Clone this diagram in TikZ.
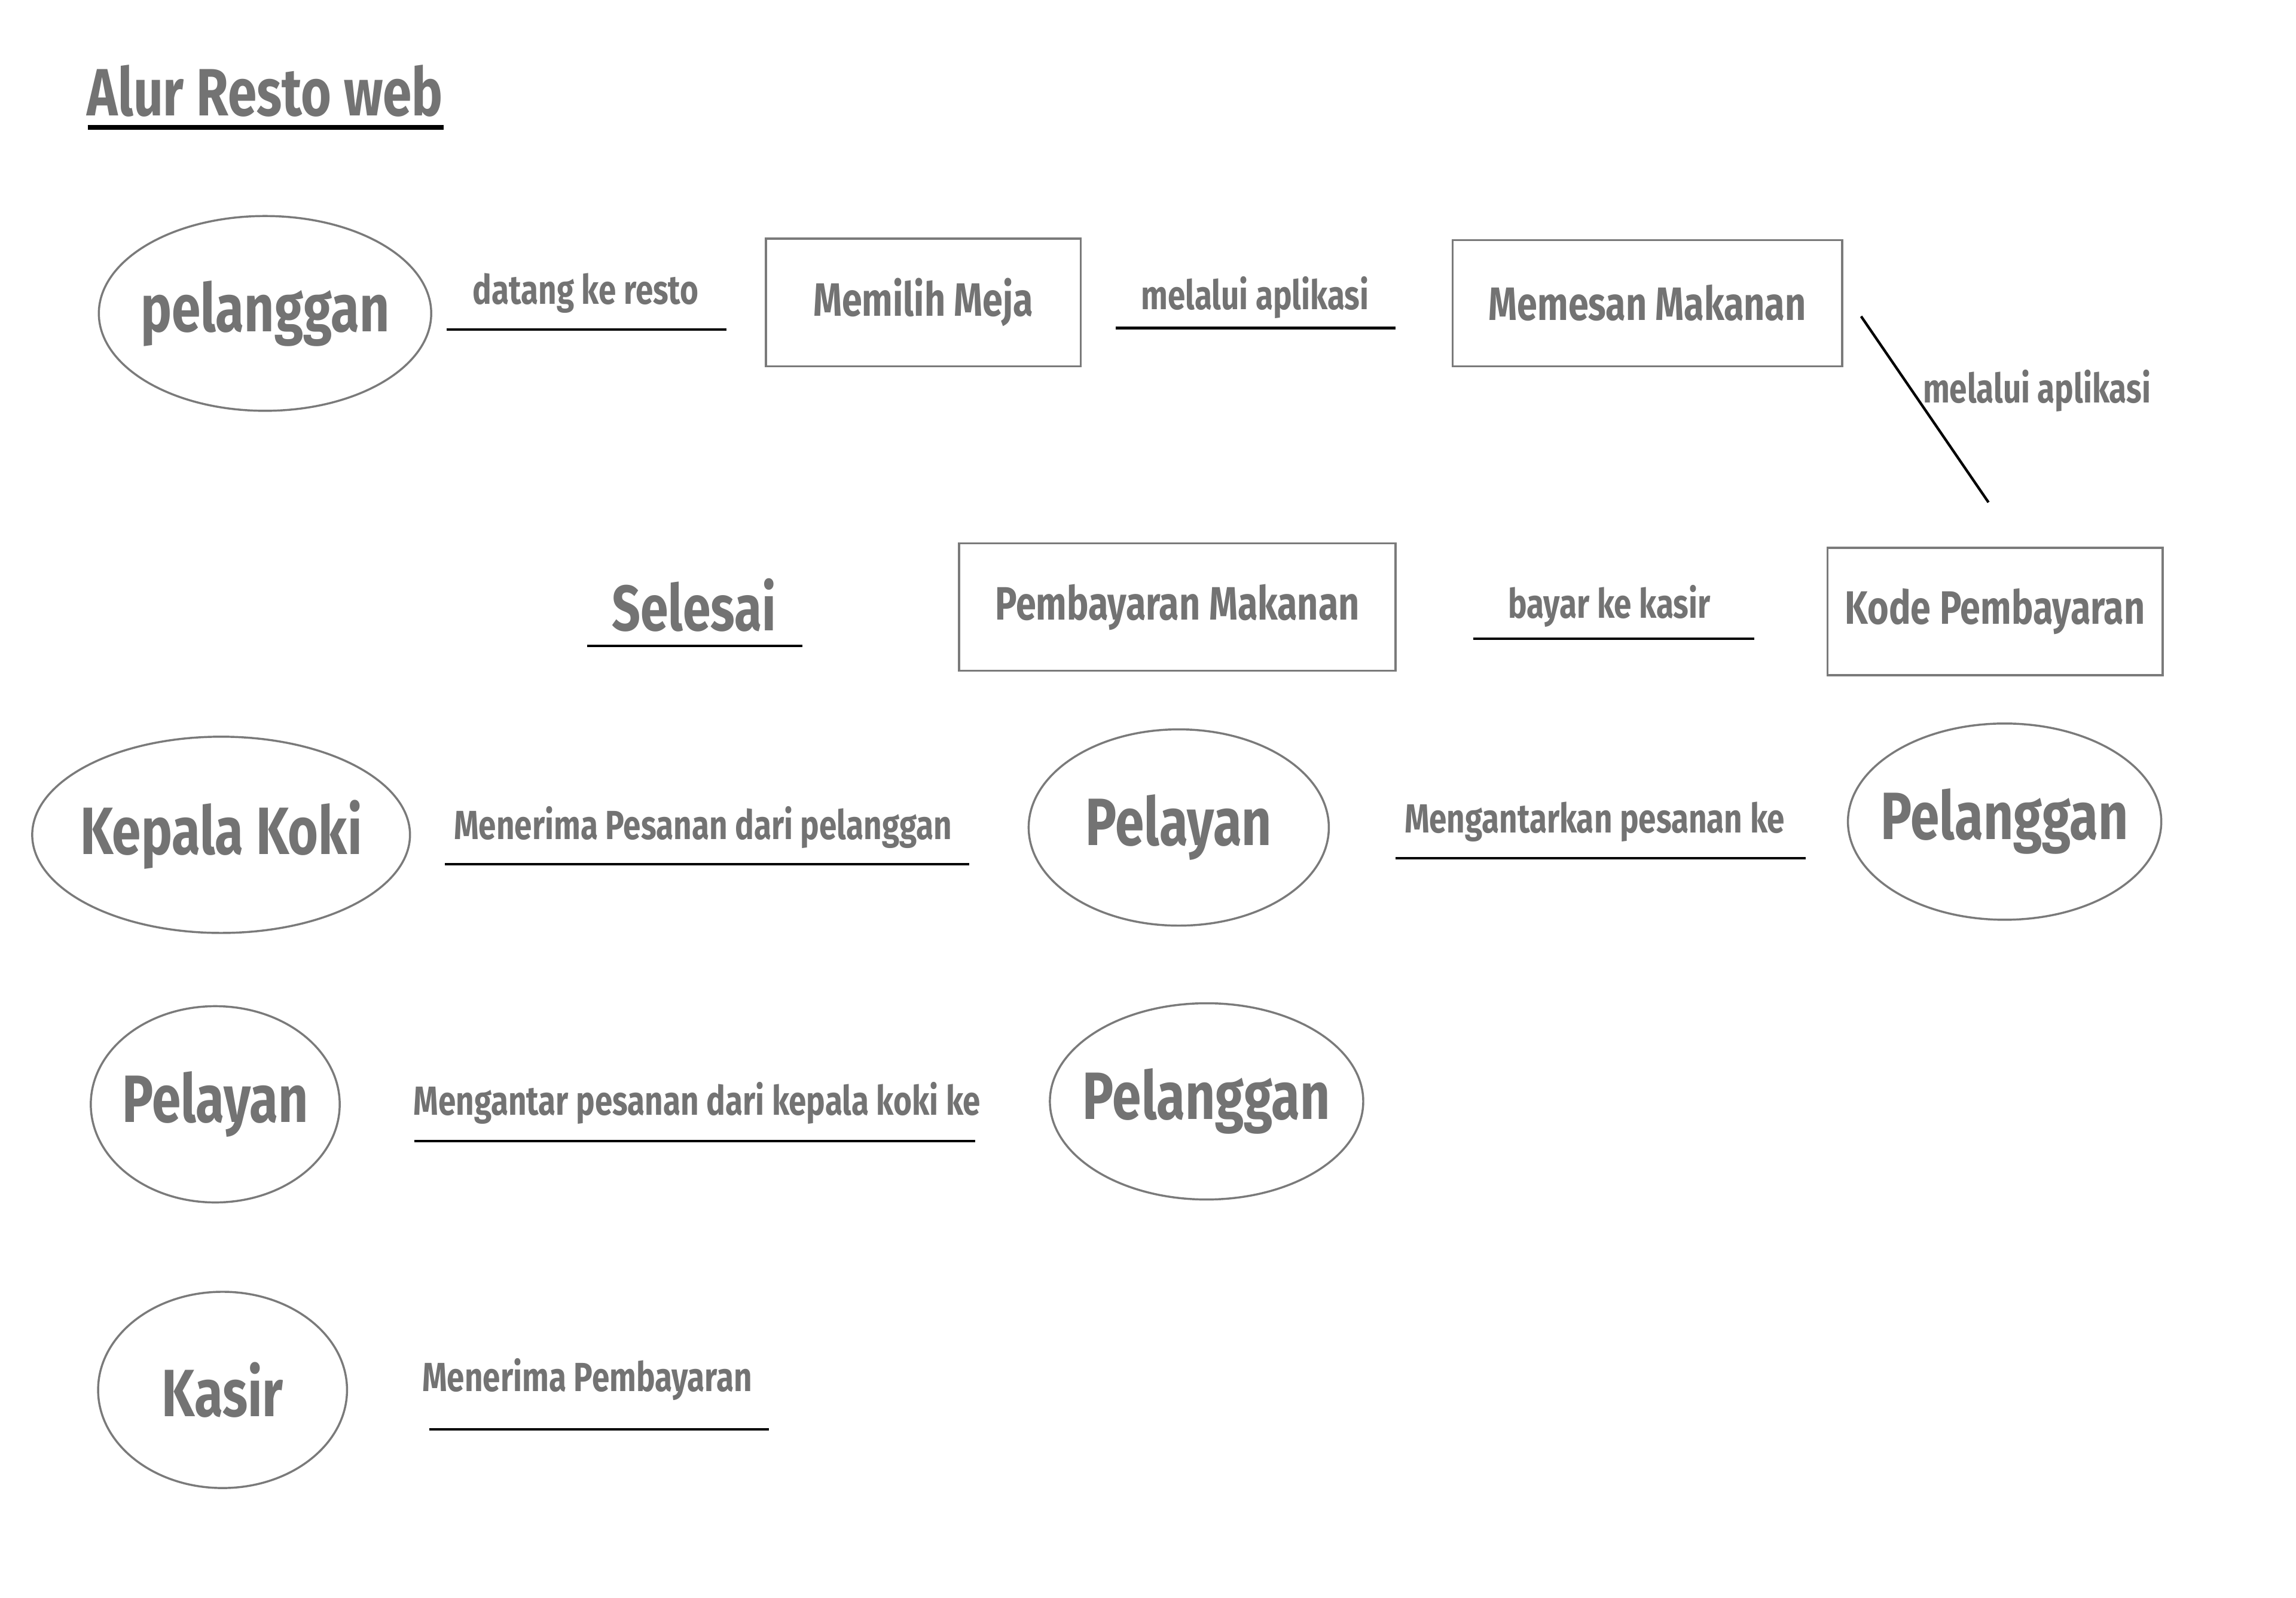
\documentclass[tikz,border=0pt]{standalone}
\usepackage{fontspec}
\setmainfont{Fira Sans}[FakeStretch=0.78]
\usetikzlibrary{shapes.geometric}

\definecolor{abu}{HTML}{737373}
\definecolor{garis}{HTML}{7A7A7A}

\begin{document}
\begin{tikzpicture}[x=0.1mm, y=-0.1mm,
        every node/.style={text=abu, inner sep=0pt},
        judul/.style={font=\bfseries\fontsize{13}{15}\selectfont},
        besar/.style={font=\bfseries\fontsize{13}{15}\selectfont},
        isi/.style={font=\bfseries\fontsize{9.1}{11}\selectfont},
        ket/.style={font=\bfseries\fontsize{7.9}{9}\selectfont},
        lingkar/.style={ellipse, draw=garis, line width=0.4pt},
        kotak/.style={rectangle, draw=garis, line width=0.4pt, isi},
        garisbawah/.style={draw=black, line width=0.5pt}]

            % Page frame
            \useasboundingbox (0,0) rectangle (1568,1091);

            % Title
            \node[judul] (judul) at (181,62) {Alur Resto web};
            \coordinate (judulA) at (60,87);
            \coordinate (judulB) at (303,87);
            \draw[garisbawah, line width=0.9pt] (judulA) -- (judulB);

            % Row 1 - pelanggan datang, pilih meja, pesan makanan
            \node[lingkar, minimum width=22.7mm, minimum height=13.3mm,
                  label={[besar]center:pelanggan}] (pelanggan) at (181,214) {};

            \node[ket] (datang) at (400,200) {datang ke resto};
            \coordinate (datangA) at (305,225);
            \coordinate (datangB) at (496,225);
            \draw[garisbawah] (datangA) -- (datangB);

            \node[kotak, minimum width=21.5mm, minimum height=8.7mm] (meja) at (630.5,206.5) {Memilih Meja};

            \node[ket] (aplikasiA) at (857,203) {melalui aplikasi};
            \coordinate (aplA1) at (762,224);
            \coordinate (aplA2) at (953,224);
            \draw[garisbawah] (aplA1) -- (aplA2);

            \node[kotak, minimum width=26.6mm, minimum height=8.6mm] (pesan) at (1125,207) {Memesan Makanan};

            % Diagonal to kode pembayaran
            \node[ket] (aplikasiB) at (1391,267) {melalui aplikasi};
            \coordinate (diagA) at (1271,216);
            \coordinate (diagB) at (1358,343);
            \draw[garisbawah] (diagA) -- (diagB);

            % Row 2 - kode, bayar, selesai
            \node[kotak, minimum width=22.9mm, minimum height=8.7mm] (kode) at (1362.5,417.5) {Kode Pembayaran};

            \node[ket] (bayar) at (1099,414) {bayar ke kasir};
            \coordinate (bayarA) at (1006,436);
            \coordinate (bayarB) at (1198,436);
            \draw[garisbawah] (bayarA) -- (bayarB);

            \node[kotak, minimum width=29.8mm, minimum height=8.7mm] (bayaran) at (804,414.5) {Pembayaran Makanan};

            \node[judul, font=\bfseries\fontsize{12.5}{15}\selectfont] (selesai) at (474,413) {Selesai};
            \coordinate (selesaiA) at (401,441);
            \coordinate (selesaiB) at (548,441);
            \draw[garisbawah] (selesaiA) -- (selesaiB);

            % Row 3 - kepala koki, pelayan, pelanggan
            \node[lingkar, minimum width=25.8mm, minimum height=13.4mm,
                  label={[besar]center:Kepala Koki}] (koki) at (151,570) {};

            \node[ket] (terima) at (480,565) {Menerima Pesanan dari pelanggan};
            \coordinate (terimaA) at (304,590);
            \coordinate (terimaB) at (662,590);
            \draw[garisbawah] (terimaA) -- (terimaB);

            \node[lingkar, minimum width=20.5mm, minimum height=13.4mm,
                  label={[besar]center:Pelayan}] (pelayan) at (805,565) {};

            \node[ket] (antarkan) at (1089,561) {Mengantarkan pesanan ke};
            \coordinate (antarkanA) at (953,586);
            \coordinate (antarkanB) at (1233,586);
            \draw[garisbawah] (antarkanA) -- (antarkanB);

            \node[lingkar, minimum width=21.4mm, minimum height=13.4mm,
                  label={[besar]center:Pelanggan}] (pelangganB) at (1369,561) {};

            % Row 4 - pelayan antar ke pelanggan
            \node[lingkar, minimum width=17.0mm, minimum height=13.4mm,
                  label={[besar]center:Pelayan}] (pelayanB) at (147,754) {};

            \node[ket] (antar) at (476,753) {Mengantar pesanan dari kepala koki ke};
            \coordinate (antarA) at (283,779);
            \coordinate (antarB) at (666,779);
            \draw[garisbawah] (antarA) -- (antarB);

            \node[lingkar, minimum width=21.4mm, minimum height=13.4mm,
                  label={[besar]center:Pelanggan}] (pelangganC) at (824,752) {};

            % Row 5 - kasir
            \node[lingkar, minimum width=17.0mm, minimum height=13.4mm,
                  label={[besar]center:Kasir}] (kasir) at (152,949) {};

            \node[ket] (terimaBayar) at (401,942) {Menerima Pembayaran};
            \coordinate (terimaBayarA) at (293,976);
            \coordinate (terimaBayarB) at (525,976);
            \draw[garisbawah] (terimaBayarA) -- (terimaBayarB);

        \end{tikzpicture}
\end{document}
